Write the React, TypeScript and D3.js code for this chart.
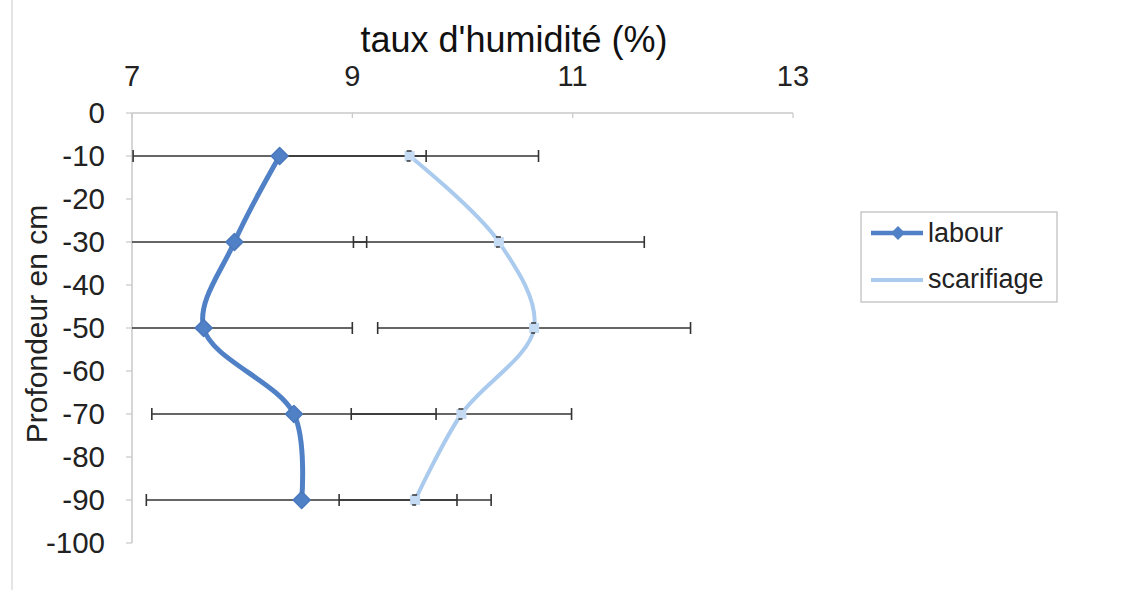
import React from "react";
import * as d3 from "d3";

const depths = [-10, -30, -50, -70, -90];
const labour = [8.34, 7.93, 7.65, 8.47, 8.54];
const labourErr = [1.33, 1.2, 1.35, 1.29, 1.41];
const scarifiage = [9.52, 10.33, 10.65, 9.99, 9.57];
const scarifiageErr = [1.17, 1.32, 1.42, 1.0, 0.69];
const xTicks = [7, 9, 11, 13];
const yTicks = [0, -10, -20, -30, -40, -50, -60, -70, -80, -90, -100];

const W = 1130;
const H = 593;
const FONT = "'Liberation Sans', Arial, sans-serif";
const LAB = "#5080c6";
const SCA = "#aacaee";

export default function App() {
  const x = d3.scaleLinear().domain([7, 13]).range([132, 793]);
  const y = d3.scaleLinear().domain([0, -100]).range([113, 543]);
  const clampX = (v: number) => Math.max(7, Math.min(13, v));

  const line = d3
    .line<[number, number]>()
    .x((d) => x(d[0]))
    .y((d) => y(d[1]))
    .curve(d3.curveCatmullRom.alpha(0.5));

  const labPts: [number, number][] = labour.map((v, i) => [v, depths[i]]);
  const scaPts: [number, number][] = scarifiage.map((v, i) => [v, depths[i]]);

  const errBars = (vals: number[], errs: number[], key: string) =>
    vals.map((v, i) => {
      const lo = v - errs[i];
      const hi = v + errs[i];
      const yy = y(depths[i]);
      const x1 = x(clampX(lo));
      const x2 = x(clampX(hi));
      return (
        <g key={key + i} stroke="#333" strokeWidth={1.6}>
          <line x1={x1} x2={x2} y1={yy} y2={yy} />
          {lo >= 7 && <line x1={x(lo)} x2={x(lo)} y1={yy - 6} y2={yy + 6} />}
          {hi <= 13 && <line x1={x(hi)} x2={x(hi)} y1={yy - 6} y2={yy + 6} />}
        </g>
      );
    });

  const diamond = (cx: number, cy: number, r: number) =>
    `M${cx},${cy - r}L${cx + r},${cy}L${cx},${cy + r}L${cx - r},${cy}Z`;

  return (
    <svg width={W} height={H} style={{ position: "absolute", left: 0, top: 0, background: "#fff" }}>
      <rect x={0} y={0} width={W} height={H} fill="#fff" />
      <line x1={12} x2={12} y1={0} y2={590} stroke="#ddd" strokeWidth={1.5} />
      {/* title */}
      <text x={514} y={52} textAnchor="middle" fontFamily={FONT} fontSize={36} fill="#111">
        taux d'humidité (%)
      </text>
      {/* x axis (top) */}
      <line x1={x(7)} x2={x(13)} y1={y(0)} y2={y(0)} stroke="#c8c8c8" strokeWidth={1.5} />
      {xTicks.map((t) => (
        <g key={"xt" + t}>
          <line x1={x(t)} x2={x(t)} y1={y(0)} y2={y(0) + 5} stroke="#c8c8c8" strokeWidth={1.2} />
          <text x={x(t)} y={86} textAnchor="middle" fontFamily={FONT} fontSize={29} fill="#222">
            {t}
          </text>
        </g>
      ))}
      {/* y axis */}
      <line x1={x(7)} x2={x(7)} y1={y(0)} y2={y(-100)} stroke="#c8c8c8" strokeWidth={1.5} />
      {yTicks.map((t) => (
        <g key={"yt" + t}>
          <line x1={x(7) - 6} x2={x(7)} y1={y(t)} y2={y(t)} stroke="#c8c8c8" strokeWidth={1.2} />
          <text x={105} y={y(t) + 10} textAnchor="end" fontFamily={FONT} fontSize={29.5} fill="#222">
            {t}
          </text>
        </g>
      ))}
      <text
        transform={`translate(47,324) rotate(-90)`}
        textAnchor="middle"
        fontFamily={FONT}
        fontSize={30}
        fill="#222"
      >
        Profondeur en cm
      </text>
      {/* error bars */}
      {errBars(labour, labourErr, "le")}
      {errBars(scarifiage, scarifiageErr, "se")}
      {/* lines */}
      <path d={line(scaPts) || ""} fill="none" stroke={SCA} strokeWidth={4} />
      <path d={line(labPts) || ""} fill="none" stroke={LAB} strokeWidth={5} />
      {labPts.map((p, i) => (
        <path key={"lm" + i} d={diamond(x(p[0]), y(p[1]), 8.5)} fill={LAB} stroke="#4a78bc" strokeWidth={1.5} strokeLinejoin="round" />
      ))}
      {scaPts.map((p, i) => (
        <g key={"sm" + i}>
          <rect x={x(p[0]) - 5} y={y(p[1]) - 5} width={10} height={10} fill="#c4dbf3" />
          <line x1={x(p[0]) - 3} x2={x(p[0]) + 2} y1={y(p[1]) - 5} y2={y(p[1]) - 5} stroke="#333" strokeWidth={1.5} />
          <line x1={x(p[0]) - 3} x2={x(p[0]) + 1} y1={y(p[1]) + 5} y2={y(p[1]) + 5} stroke="#333" strokeWidth={1.5} />
        </g>
      ))}
      {/* legend */}
      <rect x={861} y={212} width={196} height={90} fill="#fff" stroke="#bbb" strokeWidth={1.2} />
      <line x1={871} x2={923} y1={233} y2={233} stroke={LAB} strokeWidth={4.5} />
      <path d={diamond(898, 233, 7)} fill={LAB} />
      <text x={928} y={242} fontFamily={FONT} fontSize={27} fill="#222">
        labour
      </text>
      <line x1={871} x2={923} y1={280} y2={280} stroke={SCA} strokeWidth={4} />
      <text x={928} y={288} fontFamily={FONT} fontSize={27} fill="#222">
        scarifiage
      </text>
    </svg>
  );
}
